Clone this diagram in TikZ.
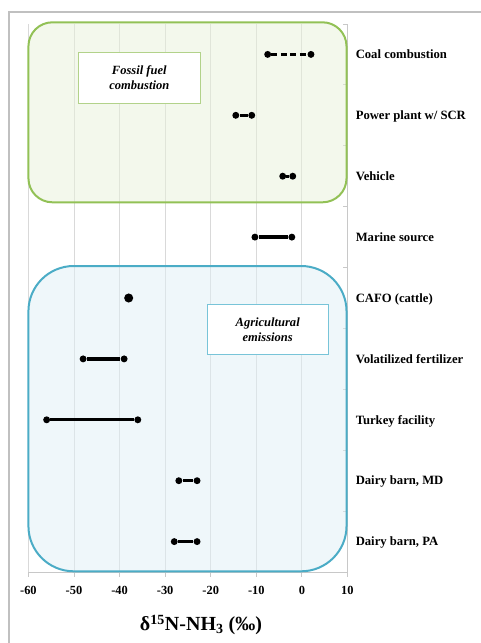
\documentclass[tikz,border=0pt]{standalone}
\usepackage{fontspec}
\setmainfont{Liberation Serif}
\usetikzlibrary{positioning}
\definecolor{framegray}{RGB}{192,192,192}
\definecolor{gridgray}{RGB}{217,217,217}
\definecolor{axisgray}{RGB}{200,200,200}
\definecolor{fossilline}{RGB}{146,193,86}
\definecolor{fossilfill}{RGB}{231,241,217}
\definecolor{fossilthin}{RGB}{178,210,138}
\definecolor{agriline}{RGB}{75,172,198}
\definecolor{agrifill}{RGB}{223,239,245}
\definecolor{agrithin}{RGB}{120,196,216}

\begin{document}
\begin{tikzpicture}[x=0.75pt,y=-0.75pt,
  frame line/.style={draw=framegray,line width=0.8pt},
  grid line/.style={draw=gridgray,line width=0.75pt},
  axis line/.style={draw=axisgray,line width=0.75pt},
  bar/.style={line width=2.5pt,black},
  dot node/.style={circle,fill=black,inner sep=0pt,minimum size=5.2pt},
  cat node/.style={anchor=base west,inner sep=0pt,font=\bfseries\fontsize{9.5}{11}\selectfont},
  tick node/.style={inner sep=0pt,font=\bfseries\fontsize{9.3}{11}\selectfont},
  group node/.style={fill=white,line width=0.6pt,align=center,minimum width=91pt,minimum height=38pt,
    font=\bfseries\itshape\fontsize{9.4}{11.3}\selectfont},
  title node/.style={inner sep=0pt,font=\bfseries\fontsize{15}{18}\selectfont}]

  \useasboundingbox (0,0) rectangle (481,643);
  \draw[frame line] (9,643) -- (9,12) -- (481,12);

  \begin{scope}[xshift=226.4pt,x=3.418pt]
    \foreach \v [count=\k] in {-60,-50,...,10} {
      \draw[grid line] (\v,24) -- (\v,572);
      \draw[axis line] (\v,572) -- (\v,577);
      \node[tick node] (tick\k) at (\v,590) {\v};
    }
    \draw[axis line] (-60,572) -- (10,572);
    \draw[axis line] (10,24) -- (10,572);
    \foreach \k in {0,...,9}
      \draw[axis line] (10,{24+60.9*\k}) -- (9.1,{24+60.9*\k});

    \draw[draw=fossilline,fill=fossilfill,fill opacity=0.5,line width=1.5pt,rounded corners=18pt]
      (-60,22.3) rectangle (9.8,202.3);
    \draw[draw=agriline,fill=agrifill,fill opacity=0.5,line width=1.5pt,rounded corners=34pt]
      (-60,266) rectangle (9.8,571.3);

    \foreach \lo/\hi/\k in {-7.5/2/1,-14.5/-11/2,-4.2/-2/3,-10.3/-2.2/4,-48/-39/6,-56/-36/7,-27/-23/8,-28/-23/9} {
      \node[dot node] (lo\k) at (\lo,{54.4+60.9*(\k-1)}) {};
      \node[dot node] (hi\k) at (\hi,{54.4+60.9*(\k-1)}) {};
    }
    \node[dot node,minimum size=6.8pt] (pt5) at (-38,{54.4+60.9*4}) {};

    \draw[bar,dash pattern=on 4.5pt off 2.6pt] (lo1) -- (hi1);
    \foreach \k in {2,3,4,6,7,8,9}
      \draw[bar] (lo\k) -- (hi\k);
  \end{scope}

  \node[group node,draw=fossilthin] (fossil) at (139.3,78) {Fossil fuel\\combustion};
  \node[group node,draw=agrithin] (agri) at (267.7,329.3) {Agricultural\\emissions};

  \foreach \lab [count=\k] in {Coal combustion,Power plant w/ SCR,Vehicle,Marine source,CAFO (cattle),
      Volatilized fertilizer,Turkey facility,{Dairy barn, MD},{Dairy barn, PA}}
    \node[cat node] (cat\k) at (355.5,{58.6+60.9*(\k-1)}) {\lab};

  \node[title node] (xtitle) at (201,625) {δ\textsuperscript{15}N-NH\textsubscript{3} (‰)};
\end{tikzpicture}
\end{document}
